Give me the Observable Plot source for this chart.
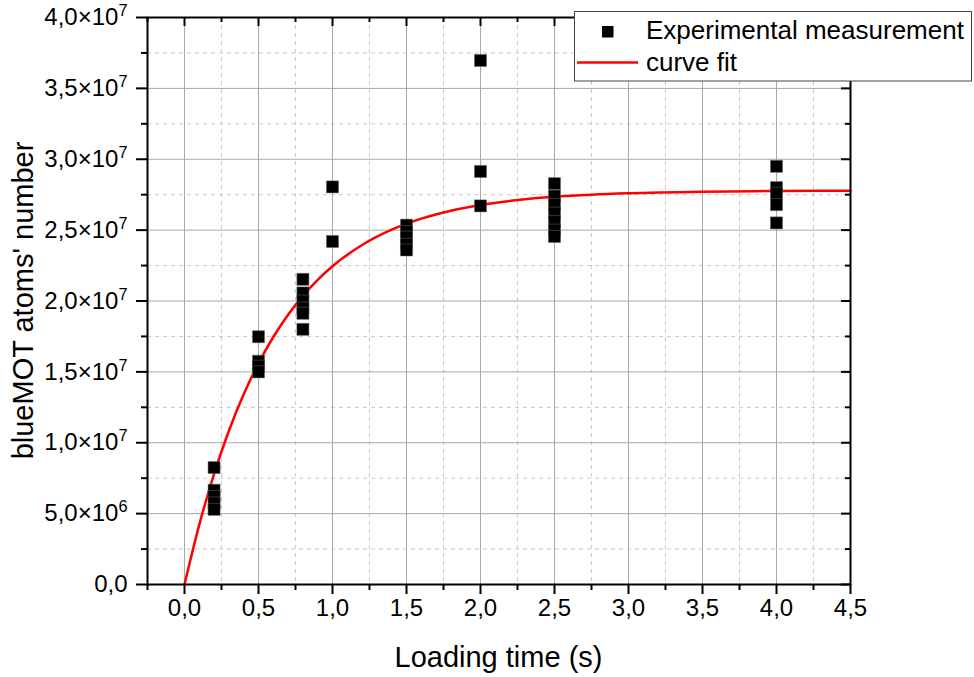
<!DOCTYPE html>
<html>
<head>
<meta charset="utf-8">
<script src="https://cdn.jsdelivr.net/npm/d3@7"></script>
<script src="https://cdn.jsdelivr.net/npm/@observablehq/plot@0.6"></script>
<style>
  body { margin: 0; background: white; }
  #chart svg { display: block; }
</style>
</head>
<body>
<div id="chart"></div>
<script>
// Measured points (loading time in s, atom number)
const measTime = [
  0.2, 0.2, 0.2, 0.2, 0.2,
  0.5, 0.5, 0.5, 0.5,
  0.8, 0.8, 0.8, 0.8, 0.8, 0.8,
  1.0, 1.0,
  1.5, 1.5, 1.5, 1.5, 1.5,
  2.0, 2.0, 2.0,
  2.5, 2.5, 2.5, 2.5, 2.5, 2.5, 2.5,
  4.0, 4.0, 4.0, 4.0, 4.0
];
const measAtoms = [
  8.25e6, 6.65e6, 6.2e6, 5.75e6, 5.3e6,
  1.748e7, 1.575e7, 1.54e7, 1.50e7,
  2.153e7, 2.057e7, 2.0e7, 1.95e7, 1.913e7, 1.80e7,
  2.805e7, 2.42e7,
  2.535e7, 2.49e7, 2.45e7, 2.40e7, 2.36e7,
  3.697e7, 2.914e7, 2.671e7,
  2.828e7, 2.74e7, 2.68e7, 2.62e7, 2.56e7, 2.50e7, 2.455e7,
  2.95e7, 2.80e7, 2.76e7, 2.68e7, 2.551e7
];
// Fitted curve
const fitTime  = [0, 0.1, 0.2, 0.3, 0.4, 0.5, 0.6, 0.7, 0.8, 0.9, 1.0, 1.2, 1.4, 1.6, 1.8, 2.0, 2.25, 2.5, 2.75, 3.0, 3.5, 4.0, 4.5];
const fitAtoms = [0, 0.422e7, 0.780e7, 1.085e7, 1.342e7, 1.560e7, 1.746e7, 1.903e7, 2.036e7, 2.149e7, 2.245e7, 2.395e7, 2.503e7, 2.581e7, 2.637e7, 2.677e7, 2.712e7, 2.735e7, 2.750e7, 2.760e7, 2.771e7, 2.776e7, 2.778e7];

// Ticks
const xMajor = [0, 0.5, 1.0, 1.5, 2.0, 2.5, 3.0, 3.5, 4.0, 4.5];
const xMinor = [-0.25, 0.25, 0.75, 1.25, 1.75, 2.25, 2.75, 3.25, 3.75, 4.25];
const yMajor = [0, 0.5e7, 1.0e7, 1.5e7, 2.0e7, 2.5e7, 3.0e7, 3.5e7, 4.0e7];
const yMinor = [0.25e7, 0.75e7, 1.25e7, 1.75e7, 2.25e7, 2.75e7, 3.25e7, 3.75e7];

const xLabel = "Loading time (s)";
const yLabel = "blueMOT atoms' number";
const legendLabels = ["Experimental measurement", "curve fit"];

const points = measTime.map((t, i) => ({t, n: measAtoms[i]}));
const fit = fitTime.map((t, i) => ({t, n: fitAtoms[i]}));

const W = 974, H = 677, mL = 147, mR = 124, mT = 17, mB = 93;
const innerW = W - mL - mR, innerH = H - mT - mB;

const fmtX = d => d.toFixed(1).replace(".", ",");
const fmtY = d => {
  if (d === 0) return "0,0";
  const e = Math.floor(Math.log10(d) + 1e-9);
  const m = d / Math.pow(10, e);
  return m.toFixed(1).replace(".", ",") + "×10^" + e;
};

const chart = Plot.plot({
  width: W, height: H,
  marginLeft: mL, marginRight: mR, marginTop: mT, marginBottom: mB,
  style: {fontFamily: "'Liberation Sans', Arial, sans-serif", fontSize: "24px", background: "white", color: "black"},
  x: {domain: [-0.25, 4.5]},
  y: {domain: [0, 4e7]},
  marks: [
    Plot.gridX(xMinor.filter(d => d > -0.25), {stroke: "#c8c8c8", strokeOpacity: 1, strokeDasharray: "4,4"}),
    Plot.gridY(yMinor, {stroke: "#c8c8c8", strokeOpacity: 1, strokeDasharray: "4,4"}),
    Plot.gridX(xMajor, {stroke: "#a8a8a8", strokeOpacity: 1}),
    Plot.gridY(yMajor, {stroke: "#a8a8a8", strokeOpacity: 1}),
    Plot.axisX(xMinor, {tickSize: 6, strokeWidth: 2, tickFormat: () => "", label: null}),
    Plot.axisX(xMajor, {tickSize: 10, strokeWidth: 2, tickPadding: 4, tickFormat: fmtX, label: null, fontSize: 24}),
    Plot.axisY(yMinor, {tickSize: 6, strokeWidth: 2, tickFormat: () => "", label: null}),
    Plot.axisY(yMajor, {tickSize: 11, strokeWidth: 2, tickPadding: 9, tickFormat: fmtY, label: null, fontSize: 24}),
    // inward ticks on top and right sides
    Plot.tickX(xMajor, {x: d => d, insetBottom: innerH - 9, stroke: "black", strokeWidth: 2}),
    Plot.tickX(xMinor, {x: d => d, insetBottom: innerH - 5, stroke: "black", strokeWidth: 2}),
    Plot.tickY(yMajor, {y: d => d, insetLeft: innerW - 9, stroke: "black", strokeWidth: 2}),
    Plot.tickY(yMinor, {y: d => d, insetLeft: innerW - 5, stroke: "black", strokeWidth: 2}),
    Plot.line(fit, {x: "t", y: "n", stroke: "#ff0000", strokeWidth: 2.5, curve: "monotone-x"}),
    Plot.dot(points, {x: "t", y: "n", symbol: "square", r: 6.8, fill: "black", stroke: "#666", strokeWidth: 0.5}),
    Plot.frame({stroke: "black", strokeWidth: 2})
  ]
});

document.getElementById("chart").appendChild(chart);

const svg = d3.select(chart);

// superscripts on y tick labels
svg.selectAll("text").each(function() {
  const t = this.textContent;
  if (t.includes("×10^")) {
    const [base, exp] = t.split("^");
    const sel = d3.select(this);
    sel.text(null);
    sel.append("tspan").text(base);
    sel.append("tspan").attr("dy", "-0.55em").attr("font-size", "0.68em").text(exp);
  }
});

// axis titles
svg.append("text")
  .attr("x", mL + innerW / 2).attr("y", 667)
  .attr("text-anchor", "middle")
  .attr("font-size", 29).attr("fill", "black")
  .text(xLabel);
svg.append("text")
  .attr("transform", `translate(33,${mT + innerH / 2}) rotate(-90)`)
  .attr("text-anchor", "middle")
  .attr("font-size", 29).attr("fill", "black")
  .text(yLabel);

// legend
const lg = svg.append("g").attr("text-anchor", "start");
lg.append("rect").attr("x", 574.5).attr("y", 11.5).attr("width", 397).attr("height", 69.5)
  .attr("fill", "white").attr("stroke", "#444").attr("stroke-width", 1);
lg.append("rect").attr("x", 602).attr("y", 26).attr("width", 11.5).attr("height", 11.5).attr("fill", "black");
lg.append("text").attr("x", 646).attr("y", 39).attr("text-anchor", "start").attr("font-size", 26).attr("fill", "black").text(legendLabels[0]);
lg.append("line").attr("x1", 577).attr("x2", 638).attr("y1", 62.5).attr("y2", 62.5)
  .attr("stroke", "#ff0000").attr("stroke-width", 2.5);
lg.append("text").attr("x", 646).attr("y", 71).attr("text-anchor", "start").attr("font-size", 26).attr("fill", "black").text(legendLabels[1]);
</script>
</body>
</html>
